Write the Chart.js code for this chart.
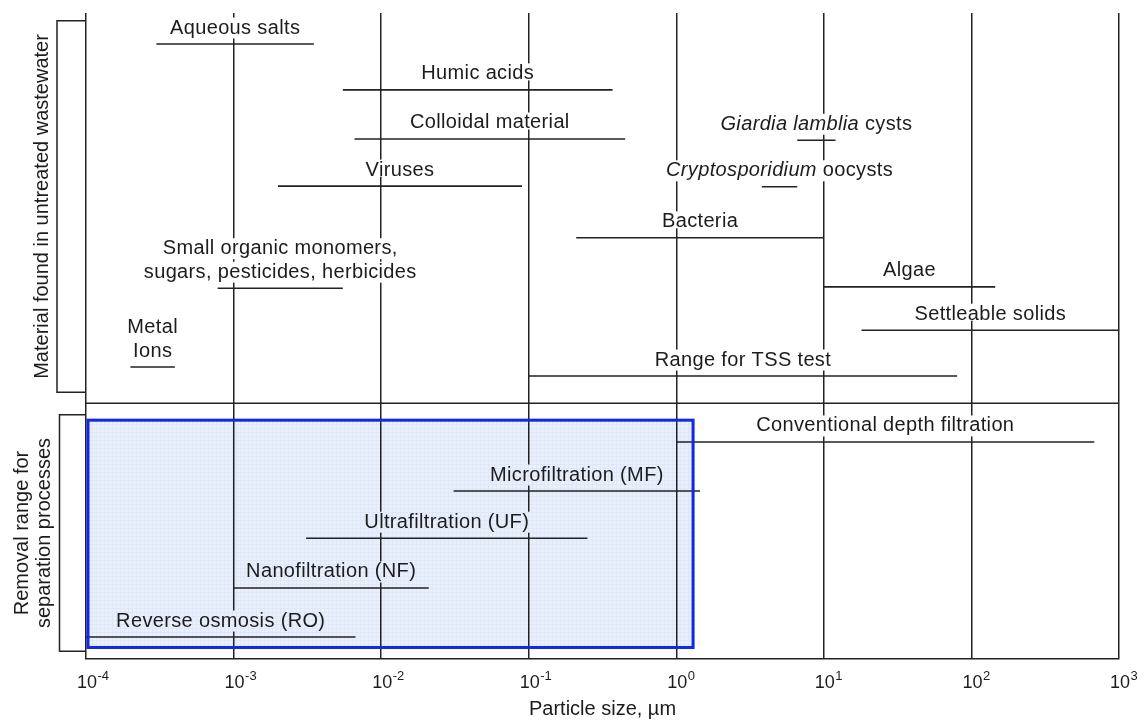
<!DOCTYPE html>
<html>
<head>
<meta charset="utf-8">
<script src="https://cdn.jsdelivr.net/npm/chart.js@4.4.1/dist/chart.umd.min.js"></script>
<style>
  html, body { margin: 0; padding: 0; background: #fff; }
  canvas { display: block; }
</style>
</head>
<body>
<canvas id="c" width="1147" height="720"></canvas>
<script>
// Size ranges (µm) of wastewater constituents and separation processes.
// "\n" breaks a label into lines, *...* marks italic text.
const categories = [
  'Aqueous salts',
  'Humic acids',
  'Colloidal material',
  'Viruses',
  '*Giardia lamblia* cysts',
  '*Cryptosporidium* oocysts',
  'Bacteria',
  'Small organic monomers,\nsugars, pesticides, herbicides',
  'Metal\nIons',
  'Algae',
  'Settleable solids',
  'Range for TSS test',
  'Conventional depth filtration',
  'Microfiltration (MF)',
  'Ultrafiltration (UF)',
  'Nanofiltration (NF)',
  'Reverse osmosis (RO)'
];
const sizeLow  = [0.0003, 0.0055, 0.0066, 0.002, 6.6, 3.8, 0.21, 0.00078, 0.0002, 10, 18, 0.1, 1, 0.031, 0.0031, 0.001, 0.0001];
const sizeHigh = [0.0035, 0.37, 0.45, 0.09, 12, 6.6, 10, 0.0055, 0.0004, 145, 1000, 80, 680, 1.45, 0.25, 0.021, 0.0067];

// Vertical placement of each range bar on a 0–100 scale
const rowLevel = [95.2, 88.1, 80.5, 73.2, 80.3, 73.1, 65.2, 57.4, 45.2, 57.6, 50.9, 43.8, 33.6, 26.0, 18.7, 11.0, 3.4];

// Decade ticks of the particle-size axis
const tickExponents = [-4, -3, -2, -1, 0, 1, 2, 3];
const axisTitle = 'Particle size, µm';

// Side groups: membrane region, divider and bracket titles
const groupTitles = ['Material found in untreated wastewater', 'Removal range for\nseparation processes'];
const groupSpans = [[41.3, 98.8], [1.2, 37.8]];
const dividerLevel = 39.6;
const membraneBox = { xMin: 0.0001, xMax: 1.33, yMin: 1.55, yMax: 37.2 };

const FONT = '"Liberation Sans", Arial, Helvetica, sans-serif';
const INK = '#1c1c1c';
const LINE = '#222';

// light blue dotted fill used for the membrane region
function makePattern(ctx) {
  const t = document.createElement('canvas');
  t.width = 4; t.height = 4;
  const g = t.getContext('2d');
  g.fillStyle = '#e9f0fc';
  g.fillRect(0, 0, 4, 4);
  g.fillStyle = '#dfe8f9';
  g.fillRect(0, 0, 4, 1);
  g.fillRect(0, 0, 1, 4);
  return ctx.createPattern(t, 'repeat');
}

function parseSegments(line) {
  const out = [];
  const parts = line.split('*');
  parts.forEach((p, i) => { if (p.length) out.push({ text: p, italic: i % 2 === 1 }); });
  return out;
}

const decor = {
  id: 'decor',
  beforeDraw(chart) {
    const { ctx, scales: { x, y } } = chart;
    chart._pattern = chart._pattern || makePattern(ctx);
    const l = x.getPixelForValue(membraneBox.xMin), r = x.getPixelForValue(membraneBox.xMax);
    const t = y.getPixelForValue(membraneBox.yMax), b = y.getPixelForValue(membraneBox.yMin);
    ctx.save();
    ctx.fillStyle = chart._pattern;
    ctx.fillRect(l, t, r - l, b - t);
    ctx.restore();
  },
  beforeDatasetsDraw(chart) {
    const { ctx, chartArea, scales: { x, y } } = chart;
    // divider between constituents and processes
    const dy = y.getPixelForValue(dividerLevel);
    ctx.save();
    ctx.strokeStyle = LINE;
    ctx.lineWidth = 1.5;
    ctx.beginPath();
    ctx.moveTo(chartArea.left, dy);
    ctx.lineTo(chartArea.right, dy);
    ctx.stroke();

    // labels above each range bar, masking the grid behind them
    const fs = 20;
    ctx.letterSpacing = '0.35px';
    const boxL = x.getPixelForValue(membraneBox.xMin), boxR = x.getPixelForValue(membraneBox.xMax);
    const boxT = y.getPixelForValue(membraneBox.yMax), boxB = y.getPixelForValue(membraneBox.yMin);
    categories.forEach((label, i) => {
      const x0 = x.getPixelForValue(sizeLow[i]);
      const x1 = x.getPixelForValue(sizeHigh[i]);
      const cx = (x0 + x1) / 2;
      const ly = y.getPixelForValue(rowLevel[i]);
      const lines = label.split('\n');
      lines.forEach((ln, k) => {
        const base = ly - 10.5 - (lines.length - 1 - k) * 23.5;
        const segs = parseSegments(ln);
        let total = 0, asc = 0, desc = 0;
        segs.forEach(s => {
          ctx.font = (s.italic ? 'italic ' : '') + fs + 'px ' + FONT;
          const m = ctx.measureText(s.text);
          s.w = m.width;
          asc = Math.max(asc, m.actualBoundingBoxAscent);
          desc = Math.max(desc, m.actualBoundingBoxDescent);
          total += m.width;
        });
        let sx = cx - total / 2;
        const inBox = cx > boxL && cx < boxR && base > boxT && base < boxB;
        ctx.fillStyle = inBox ? chart._pattern : '#fff';
        ctx.fillRect(sx - 1, base - asc - 1, total + 2, asc + desc + 2);
        ctx.fillStyle = INK;
        ctx.textAlign = 'left';
        ctx.textBaseline = 'alphabetic';
        segs.forEach(s => {
          ctx.font = (s.italic ? 'italic ' : '') + fs + 'px ' + FONT;
          ctx.fillText(s.text, sx, base);
          sx += s.w;
        });
      });
    });
    ctx.restore();
  },
  afterDatasetsDraw(chart) {
    const { ctx, scales: { x, y } } = chart;
    const lw = 3;
    const l = x.getPixelForValue(membraneBox.xMin) + lw / 2 + 0.5;
    const r = x.getPixelForValue(membraneBox.xMax) - lw / 2;
    const t = y.getPixelForValue(membraneBox.yMax) + lw / 2;
    const b = y.getPixelForValue(membraneBox.yMin) - lw / 2;
    ctx.save();
    ctx.strokeStyle = '#1228e6';
    ctx.lineWidth = lw;
    ctx.strokeRect(l, t, r - l, b - t);
    ctx.restore();
  },
  afterDraw(chart) {
    const { ctx, chartArea, scales: { x, y } } = chart;
    ctx.save();
    ctx.fillStyle = INK;

    // decade tick labels: 10 with a raised exponent
    tickExponents.forEach(e => {
      const px = x.getPixelForValue(Math.pow(10, e));
      ctx.font = '18px ' + FONT;
      ctx.textAlign = 'center';
      ctx.textBaseline = 'alphabetic';
      const w = ctx.measureText('10').width;
      ctx.fillText('10', px + 1, 688);
      ctx.font = '13px ' + FONT;
      ctx.textAlign = 'left';
      ctx.fillText(e < 0 ? '-' + Math.abs(e) : String(e), px + 1 + w / 2 + 0.5, 680);
    });

    // axis title
    ctx.font = '20px ' + FONT;
    ctx.textAlign = 'center';
    ctx.fillText(axisTitle, (chartArea.left + chartArea.right) / 2, 715);

    // brackets and rotated group titles on the left
    ctx.strokeStyle = LINE;
    ctx.lineWidth = 1.5;
    groupSpans.forEach((span, g) => {
      const top = y.getPixelForValue(span[1]);
      const bot = y.getPixelForValue(span[0]);
      const bx = chartArea.left - 29 + (g === 1 ? 2.5 : 0);
      ctx.beginPath();
      ctx.moveTo(chartArea.left, top);
      ctx.lineTo(bx, top);
      ctx.lineTo(bx, bot);
      ctx.lineTo(chartArea.left, bot);
      ctx.stroke();

      const lines = groupTitles[g].split('\n');
      const cy = (top + bot) / 2;
      const lastX = bx - 15;
      ctx.font = '20px ' + FONT;
      lines.forEach((ln, k) => {
        const tx = lastX - (lines.length - 1 - k) * 22;
        ctx.save();
        ctx.translate(tx, cy);
        ctx.rotate(-Math.PI / 2);
        ctx.textAlign = 'center';
        ctx.textBaseline = 'middle';
        ctx.fillText(ln, 0, 0);
        ctx.restore();
      });
    });
    ctx.restore();
  }
};

const datasets = categories.map((c, i) => ({
  label: c.replace(/\*/g, ''),
  data: [{ x: sizeLow[i], y: rowLevel[i] }, { x: sizeHigh[i], y: rowLevel[i] }],
  borderColor: LINE,
  borderWidth: 1.6,
  pointRadius: 0,
  fill: false,
  tension: 0
}));

new Chart(document.getElementById('c').getContext('2d'), {
  type: 'line',
  data: { datasets },
  options: {
    responsive: false,
    animation: false,
    events: [],
    layout: { padding: { left: 86, right: 28, top: 13, bottom: 61 } },
    plugins: { legend: { display: false }, tooltip: { enabled: false } },
    scales: {
      x: {
        type: 'logarithmic',
        min: 1e-4,
        max: 1e3,
        afterBuildTicks: s => { s.ticks = tickExponents.map(e => ({ value: Math.pow(10, e) })); },
        ticks: { display: false },
        grid: { color: LINE, lineWidth: 1.5, drawTicks: false },
        border: { display: true, color: LINE, width: 1.6 }
      },
      y: { type: 'linear', min: 0, max: 100, display: false }
    }
  },
  plugins: [decor]
});
</script>
</body>
</html>
